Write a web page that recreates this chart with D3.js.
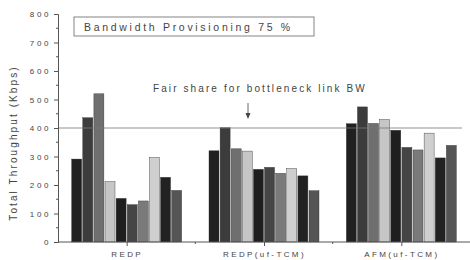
<!DOCTYPE html>
<html>
<head>
<meta charset="utf-8">
<script src="https://cdn.jsdelivr.net/npm/d3@7"></script>
<style>
  body { margin: 0; background: #fff; }
  svg text { font-family: "Liberation Sans", Arial, sans-serif; fill: #444; }
</style>
</head>
<body>
<div id="wrapper"></div>
<script>
// data
const categories = ['REDP', 'REDP(uf-TCM)', 'AFM(uf-TCM)'];
const redp = [291, 436, 520, 212, 153, 131, 144, 297, 227, 181];
const redpTcm = [320, 401, 327, 319, 255, 262, 241, 258, 232, 180];
const afmTcm = [415, 474, 416, 430, 392, 332, 323, 382, 295, 339];
const yTicks = [0, 100, 200, 300, 400, 500, 600, 700, 800];
const fairShare = 400;

const groups = [redp, redpTcm, afmTcm];
const barColors = ['#202020', '#3c3c3c', '#6f6f6f', '#c6c6c6', '#1e1e1e', '#454545', '#7a7a7a', '#cfcfcf', '#222222', '#555555'];

const width = 470, height = 260;
const svg = d3.select('#wrapper').append('svg')
  .attr('width', width).attr('height', height);

// x as a linear scale: category i sits at i+1
const xscale = d3.scaleLinear().domain([0.5, 3.5]).range([58, 470]);
const yscale = d3.scaleLinear().domain([0, 800]).range([242, 14]);
const inner = d3.scaleBand().domain(d3.range(10)).range([-55, 55]).paddingInner(0.1);

// bars
groups.forEach((vals, gi) => {
  svg.append('g')
    .selectAll('rect')
    .data(vals)
    .join('rect')
      .attr('x', (d, i) => xscale(gi + 1) + inner(i))
      .attr('width', inner.bandwidth())
      .attr('y', d => yscale(d))
      .attr('height', d => yscale(0) - yscale(d))
      .attr('fill', (d, i) => barColors[i])
      .attr('stroke', '#333')
      .attr('stroke-width', 0.4);
});

// fair share line
svg.append('line')
  .attr('x1', xscale(0.5)).attr('x2', 462)
  .attr('y1', yscale(fairShare)).attr('y2', yscale(fairShare))
  .attr('stroke', '#777').attr('stroke-width', 0.8);

// y axis
const yaxis = d3.axisLeft(yscale).tickValues(yTicks).tickSize(4).tickPadding(3);
const gy = svg.append('g').attr('transform', `translate(${xscale(0.5)},0)`).call(yaxis);
gy.selectAll('text').attr('font-size', 8).attr('letter-spacing', 2.6).attr('fill', '#555');
// minor ticks
gy.selectAll('.minor')
  .data(d3.range(50, 800, 100))
  .join('line')
    .attr('x1', -2).attr('x2', 0)
    .attr('y1', d => yscale(d)).attr('y2', d => yscale(d))
    .attr('stroke', '#555');

// x axis
const xaxis = d3.axisBottom(xscale).tickValues([1, 2, 3])
  .tickFormat((d, i) => categories[i]).tickSize(4).tickPadding(5);
const gx = svg.append('g').attr('transform', `translate(0,${yscale(0)})`).call(xaxis);
gx.select('.domain').attr('d', `M${xscale(0.5)},0H${width}`);
gx.selectAll('text').attr('font-size', 8).attr('letter-spacing', 2.4).attr('fill', '#555');
gx.selectAll('.minor')
  .data([1.5, 2.5])
  .join('line')
    .attr('x1', d => xscale(d)).attr('x2', d => xscale(d))
    .attr('y1', 0).attr('y2', 2)
    .attr('stroke', '#555');
svg.selectAll('.domain, .tick line').attr('stroke', '#555');

// y label
svg.append('text')
  .attr('transform', 'translate(17,143) rotate(-90)')
  .attr('text-anchor', 'middle')
  .attr('font-size', 10)
  .attr('letter-spacing', 2.1)
  .text('Total Throughput (Kbps)');

// title box
svg.append('rect')
  .attr('x', 74).attr('y', 17).attr('width', 240).attr('height', 19)
  .attr('fill', 'none').attr('stroke', '#666').attr('stroke-width', 0.8);
svg.append('text')
  .attr('x', 84).attr('y', 31)
  .attr('font-size', 10.5)
  .attr('letter-spacing', 2.7)
  .text('Bandwidth Provisioning 75 %');

// annotation
svg.append('text')
  .attr('x', 153).attr('y', 92)
  .attr('font-size', 10)
  .attr('letter-spacing', 2.1)
  .text('Fair share for bottleneck link BW');
svg.append('line')
  .attr('x1', 248).attr('x2', 248).attr('y1', 103).attr('y2', 117)
  .attr('stroke', '#444').attr('stroke-width', 0.8);
svg.append('path')
  .attr('d', 'M245.5,113 L248,119 L250.5,113 Z')
  .attr('fill', '#444');
</script>
</body>
</html>
